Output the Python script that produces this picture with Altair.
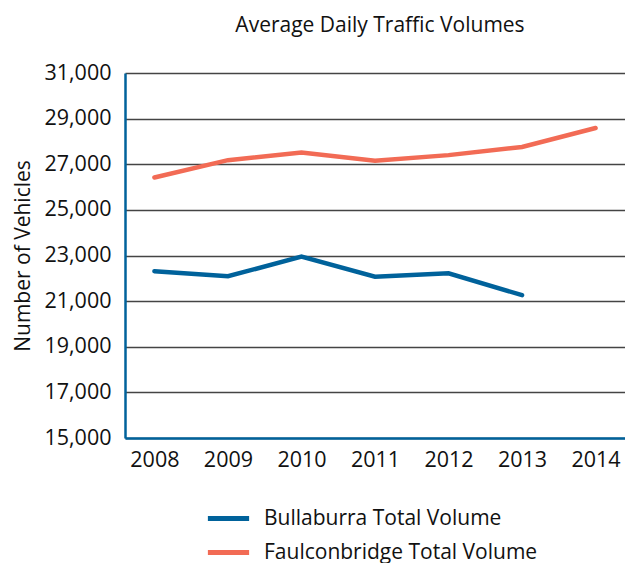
import altair as alt
import pandas as pd

years = ["2008", "2009", "2010", "2011", "2012", "2013", "2014"]
bullaburra = [22310, 22090, 22950, 22070, 22220, 21260, None]
faulconbridge = [26420, 27180, 27515, 27150, 27400, 27760, 28590]
series_names = ["Bullaburra Total Volume", "Faulconbridge Total Volume"]
y_ticks = [15000, 17000, 19000, 21000, 23000, 25000, 27000, 29000, 31000]

rows = []
for name, vals in zip(series_names, [bullaburra, faulconbridge]):
    for yr, v in zip(years, vals):
        if v is not None:
            rows.append({"Year": yr, "Vehicles": v, "Series": name})
df = pd.DataFrame(rows)

FONT = "Open Sans"

chart = alt.Chart(df).mark_line(strokeWidth=4.5, strokeCap="round").encode(
    x=alt.X("Year:O", sort=years, title=None,
            scale=alt.Scale(type="point", padding=0.4),
            axis=alt.Axis(labelAngle=0, ticks=False, domainColor="#00629b",
                          domainWidth=2.5, labelFontSize=21.5, labelColor="#111",
                          labelPadding=11, grid=False, labelFont=FONT)),
    y=alt.Y("Vehicles:Q", title="Number of Vehicles",
            scale=alt.Scale(domain=[15000, 31000], nice=False, zero=False),
            axis=alt.Axis(values=y_ticks, format=",.0f", ticks=False,
                          domainColor="#00629b", domainWidth=2.5,
                          gridColor="#444", gridWidth=1.4, labelFontSize=21.5,
                          labelColor="#111", labelPadding=14,
                          titleFontSize=21, titleFontWeight="normal",
                          titleColor="#111", titlePadding=10, labelFont=FONT,
                          titleFont=FONT)),
    color=alt.Color("Series:N", sort=series_names, title=None,
                    scale=alt.Scale(domain=series_names, range=["#00629b", "#f26b55"]),
                    legend=alt.Legend(orient="none", legendX=80, legendY=422,
                                      direction="vertical", padding=0,
                                      symbolType="stroke", symbolSize=1700,
                                      symbolStrokeWidth=5, labelFontSize=21,
                                      labelColor="#111", labelFont=FONT,
                                      labelLimit=0, rowPadding=-8, labelOffset=12))
).properties(
    width=500,
    height=365,
    padding={"left": 4, "top": 7, "right": 0, "bottom": 0},
    title=alt.TitleParams("Average Daily Traffic Volumes", fontSize=21,
                          fontWeight="normal", font=FONT, color="#111",
                          anchor="middle", offset=26, dx=5)
).configure_view(stroke=None)

chart.save("out.html", embed_options={"renderer": "svg", "actions": False})
